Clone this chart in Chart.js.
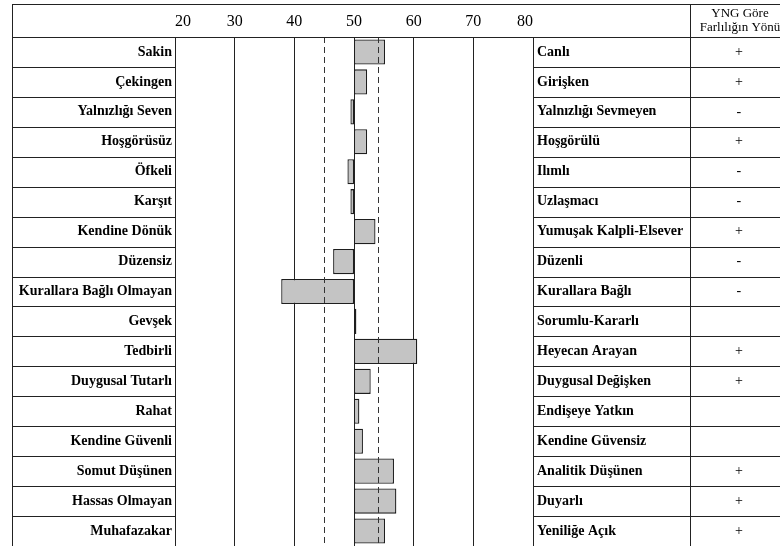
<!DOCTYPE html>
<html lang="tr">
<head>
<meta charset="utf-8">
<script src="https://cdn.jsdelivr.net/npm/chart.js@4/dist/chart.umd.min.js"></script>
<style>
  html, body { margin: 0; padding: 0; background: #fff; }
  #wrap { width: 780px; height: 546px; }
</style>
</head>
<body>
<div id="wrap"><canvas id="chart" width="780" height="546"></canvas></div>
<script>
const leftLabels = [
  "Sakin", "Çekingen", "Yalnızlığı Seven", "Hoşgörüsüz", "Öfkeli", "Karşıt",
  "Kendine Dönük", "Düzensiz", "Kurallara Bağlı Olmayan", "Gevşek", "Tedbirli",
  "Duygusal Tutarlı", "Rahat", "Kendine Güvenli", "Somut Düşünen",
  "Hassas Olmayan", "Muhafazakar"
];
const rightLabels = [
  "Canlı", "Girişken", "Yalnızlığı Sevmeyen", "Hoşgörülü", "Ilımlı", "Uzlaşmacı",
  "Yumuşak Kalpli-Elsever", "Düzenli", "Kurallara Bağlı", "Sorumlu-Kararlı",
  "Heyecan Arayan", "Duygusal Değişken", "Endişeye Yatkın", "Kendine Güvensiz",
  "Analitik Düşünen", "Duyarlı", "Yeniliğe Açık"
];
const directions = ["+", "+", "-", "+", "-", "-", "+", "-", "-", "", "+", "+", "", "", "+", "+", "+"];
const scores = [55.2, 52.2, 49.4, 52.2, 48.9, 49.4, 53.6, 46.5, 37.8, 50.4, 60.6, 52.8, 50.9, 51.5, 56.7, 57.1, 55.2];
const baseValue = 50;
const xTicks = [20, 30, 40, 50, 60, 70, 80];
const refLines = [45, 54];
const headerLines = ["YNG Göre", "Farlılığın Yönü"];

const serif = '"Liberation Serif", "DejaVu Serif", serif';
const lineColor = "#222";

// fixed axis size, and no extra label padding pushed into the layout
const fixSize = (w, h) => s => {
  if (w) s.width = w;
  if (h) s.height = h;
  s.paddingTop = s.paddingBottom = s.paddingLeft = s.paddingRight = 0;
};

// table frame, row separators, header and dashed reference lines
const tablePlugin = {
  id: "table",
  afterDatasetsDraw(chart) {
    const { ctx, chartArea, scales: { x } } = chart;
    ctx.save();
    ctx.strokeStyle = "#333";
    ctx.lineWidth = 1;
    ctx.setLineDash([6, 4]);
    refLines.forEach(v => {
      const px = Math.round(x.getPixelForValue(v)) + 0.5;
      ctx.beginPath();
      ctx.moveTo(px, chartArea.top);
      ctx.lineTo(px, chartArea.bottom);
      ctx.stroke();
    });
    ctx.restore();
  },
  afterDraw(chart) {
    const { ctx, chartArea, scales: { y3 } } = chart;
    const left = 12, top = 4, right = chart.width, bottom = chart.height;
    const n = leftLabels.length;
    const band = (chartArea.bottom - chartArea.top) / n;
    const colX = Math.round(y3.left) + 0.5;

    ctx.save();
    ctx.strokeStyle = lineColor;
    ctx.lineWidth = 1;
    ctx.beginPath();
    ctx.moveTo(left, top + 0.5); ctx.lineTo(right, top + 0.5);
    ctx.moveTo(left, Math.round(chartArea.top) + 0.5); ctx.lineTo(right, Math.round(chartArea.top) + 0.5);
    ctx.moveTo(left + 0.5, top); ctx.lineTo(left + 0.5, bottom);
    ctx.moveTo(colX, top); ctx.lineTo(colX, bottom);
    for (let i = 1; i < n; i++) {
      const py = Math.round(chartArea.top + band * i) + 0.5;
      ctx.moveTo(left, py); ctx.lineTo(chartArea.left, py);
      ctx.moveTo(chartArea.right, py); ctx.lineTo(right, py);
    }
    ctx.stroke();

    ctx.fillStyle = "#000";
    ctx.font = "13px " + serif;
    ctx.textAlign = "center";
    ctx.textBaseline = "middle";
    ctx.fillText(headerLines[0], y3.left + 50, 14);
    ctx.fillText(headerLines[1], y3.left + 50, 28);
    ctx.restore();
  }
};

new Chart(document.getElementById("chart"), {
  type: "bar",
  data: {
    labels: leftLabels,
    datasets: [{
      data: scores.map(v => [baseValue, v]),
      backgroundColor: "#c4c4c4",
      borderColor: "#1e1e1e",
      borderWidth: 1.3,
      borderSkipped: false,
      barPercentage: 0.84,
      categoryPercentage: 1,
      yAxisID: "y"
    }]
  },
  options: {
    indexAxis: "y",
    responsive: false,
    animation: false,
    layout: { padding: { left: 12, top: 4, right: 0, bottom: 0 } },
    plugins: { legend: { display: false }, tooltip: { enabled: false } },
    scales: {
      x: {
        type: "linear",
        position: "top",
        min: 20,
        max: 80,
        afterBuildTicks: s => { s.ticks = xTicks.map(v => ({ value: v })); },
        afterFit: fixSize(0, 33),
        grid: { color: lineColor, lineWidth: 1, drawTicks: false },
        border: { display: false },
        ticks: { align: "inner", padding: 6, color: "#000", font: { family: serif, size: 16 } }
      },
      y: {
        type: "category",
        position: "left",
        offset: true,
        afterFit: fixSize(163, 0),
        grid: { display: false, drawTicks: false },
        border: { display: false },
        ticks: { autoSkip: false, padding: 3, color: "#000", font: { family: serif, size: 14, weight: "bold" } }
      },
      y2: {
        type: "category",
        labels: rightLabels,
        position: "right",
        weight: 0,
        offset: true,
        afterFit: fixSize(157, 0),
        grid: { display: false, drawTicks: false },
        border: { display: false },
        ticks: { autoSkip: false, padding: 4, color: "#000", font: { family: serif, size: 14, weight: "bold" } }
      },
      y3: {
        type: "category",
        labels: directions,
        position: "right",
        weight: 1,
        offset: true,
        afterFit: fixSize(90, 0),
        grid: { display: false, drawTicks: false },
        border: { display: false },
        ticks: { autoSkip: false, crossAlign: "center", padding: 45, color: "#000", font: { family: serif, size: 14 } }
      }
    }
  },
  plugins: [tablePlugin]
});
</script>
</body>
</html>
